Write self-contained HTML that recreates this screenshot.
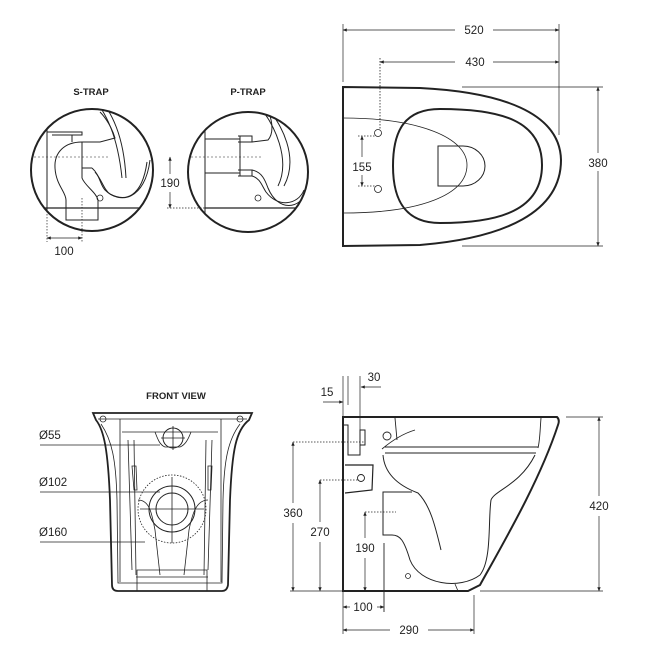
<!DOCTYPE html>
<html><head><style>
html,body{margin:0;padding:0;background:#fff;}
svg{display:block;}
text{font-family:"Liberation Sans",sans-serif;fill:#222;}
.d{font-size:11.5px;}
.b{font-size:9.5px;font-weight:bold;}
</style></head><body>
<svg width="645" height="645" viewBox="0 0 645 645" xmlns="http://www.w3.org/2000/svg">
<defs>
<marker id="a" viewBox="0 0 10 10" refX="9" refY="5" markerWidth="6" markerHeight="6" orient="auto-start-reverse"><path d="M0,1 L10,5 L0,9 Z" fill="#222"/></marker>
<clipPath id="cs"><circle cx="92" cy="170" r="61"/></clipPath>
<clipPath id="cp"><circle cx="248" cy="172" r="60"/></clipPath>
</defs>
<g fill="none" stroke="#222">

<!-- ===== TOP RIGHT PLAN ===== -->
<line x1="343" y1="24" x2="343" y2="82" stroke-width="0.7"/>
<line x1="559" y1="24" x2="559" y2="135" stroke-width="0.7"/>
<line x1="343" y1="30" x2="455" y2="30" stroke-width="0.7" marker-start="url(#a)"/>
<line x1="493" y1="30" x2="559" y2="30" stroke-width="0.7" marker-end="url(#a)"/>
<line x1="380" y1="62" x2="455" y2="62" stroke-width="0.7" marker-start="url(#a)"/>
<line x1="493" y1="62" x2="559" y2="62" stroke-width="0.7" marker-end="url(#a)"/>
<line x1="380" y1="58" x2="380" y2="130" stroke-width="0.8" stroke-dasharray="1.5,1.5"/>
<path d="M343,87 L420,88 C500,92 560,112 561,160 C561,212 505,238 420,245 L343,246 Z" stroke-width="2"/>
<path d="M343,118 C420,118 467,138 467,165 C467,195 420,213 343,213" stroke-width="0.8"/>
<path d="M440,109 C500,109 542,120 542,165 C542,210 500,223 440,223 C405,223 393,200 393,166 C393,130 405,109 440,109 Z" stroke-width="2"/>
<path d="M438,146 L463,146 A22,20 0 0 1 463,186 L438,186 Z" stroke-width="1"/>
<circle cx="378" cy="133" r="3.5" stroke-width="0.8"/>
<circle cx="378" cy="189" r="3.5" stroke-width="0.8"/>
<line x1="358" y1="136" x2="375" y2="136" stroke-width="0.7" stroke-dasharray="1.5,1.5"/>
<line x1="358" y1="186" x2="375" y2="186" stroke-width="0.7" stroke-dasharray="1.5,1.5"/>
<line x1="362" y1="136" x2="362" y2="157" stroke-width="0.7" marker-start="url(#a)"/>
<line x1="362" y1="175" x2="362" y2="186" stroke-width="0.7" marker-end="url(#a)"/>
<line x1="462" y1="87" x2="603" y2="87" stroke-width="0.7"/>
<line x1="462" y1="246" x2="603" y2="246" stroke-width="0.7"/>
<line x1="598" y1="87" x2="598" y2="153" stroke-width="0.7" marker-start="url(#a)"/>
<line x1="598" y1="171" x2="598" y2="246" stroke-width="0.7" marker-end="url(#a)"/>

<!-- ===== S-TRAP ===== -->
<g clip-path="url(#cs)">
<line x1="30" y1="157" x2="110" y2="157" stroke-width="0.6" stroke-dasharray="2,2"/>
<line x1="47" y1="128" x2="47" y2="240" stroke-width="1"/>
<line x1="30" y1="208" x2="160" y2="208" stroke-width="1.2"/>
<path d="M47,132 L82,132 L82,135 L52,135 M72,135 L72,142" stroke-width="1"/>
<path d="M82,142 C65,142 54,152 55,168 C56,185 66,192 66,200 L66,220 L98,220 L98,200 C96,192 85,186 82,178 L82,168 L92,168" stroke-width="1"/>
<path d="M82,142 L82,168 M82,142 L100,142 L115,138 C112,128 106,118 100,112" stroke-width="1"/>
<path d="M84,88 C108,110 118,140 122,178" stroke-width="1"/>
<path d="M90,88 C114,110 124,140 126,178" stroke-width="1"/>
<path d="M92,168 C100,175 100,185 105,190 C120,205 145,200 150,160" stroke-width="1"/>
<path d="M95,172 C102,180 104,190 110,194 C125,202 142,198 147,162" stroke-width="1"/>
<circle cx="100" cy="198" r="3" stroke-width="0.8"/>
</g>
<circle cx="92" cy="170" r="61" stroke-width="2"/>
<line x1="82" y1="198" x2="82" y2="242" stroke-width="0.7" stroke-dasharray="1.5,1.5"/>
<line x1="47" y1="208" x2="47" y2="242" stroke-width="0.7" stroke-dasharray="1.5,1.5"/>
<line x1="47" y1="238" x2="82" y2="238" stroke-width="0.7" marker-start="url(#a)" marker-end="url(#a)"/>

<!-- ===== P-TRAP ===== -->
<g clip-path="url(#cp)">
<line x1="167" y1="157" x2="262" y2="157" stroke-width="0.6" stroke-dasharray="2,2"/>
<line x1="205" y1="125" x2="205" y2="240" stroke-width="1"/>
<line x1="205" y1="208" x2="310" y2="208" stroke-width="1.2"/>
<line x1="205" y1="139" x2="240" y2="139" stroke-width="1"/>
<line x1="205" y1="173" x2="240" y2="173" stroke-width="1"/>
<path d="M240,136 L240,176 M238,136 L252,136 L252,142 L238,142 M238,170 L252,170 L252,176 L238,176" stroke-width="1"/>
<path d="M252,142 L268,140 C275,132 272,115 264,105" stroke-width="1"/>
<path d="M252,170 C262,172 265,180 268,188 C278,212 300,210 308,190" stroke-width="1"/>
<path d="M252,176 C260,178 262,186 266,192 C278,208 298,205 304,190" stroke-width="1"/>
<path d="M252,98 C278,125 290,162 278,186" stroke-width="1"/>
<path d="M258,98 C286,125 298,160 284,186" stroke-width="1"/>
<circle cx="258" cy="198" r="3" stroke-width="0.8"/>
</g>
<circle cx="248" cy="172" r="60" stroke-width="2"/>
<line x1="167" y1="208" x2="205" y2="208" stroke-width="0.7" stroke-dasharray="1.5,1.5"/>
<line x1="170" y1="157" x2="170" y2="174" stroke-width="0.7" marker-start="url(#a)"/>
<line x1="170" y1="192" x2="170" y2="208" stroke-width="0.7" marker-end="url(#a)"/>

<!-- ===== FRONT VIEW ===== -->
<path d="M93,413 L252,413 L249,420 C236,430 232,450 230,500 L228,585 Q227,591 222,591 L118,591 Q112,591 112,585 L110,500 C108,450 104,430 96,420 Z" stroke-width="1.8"/>
<path d="M98,419 L247,419 M101,424 C112,440 116,460 117,500 L118,583 L222,583 L223,500 C224,460 228,440 240,424" stroke-width="0.8"/>
<circle cx="103" cy="419" r="3" stroke-width="0.8"/>
<circle cx="240" cy="419" r="3" stroke-width="0.8"/>
<path d="M120,419 L120,582 M221,419 L221,582 M122,432 L218,432 M155,432 C158,440 160,445 165,447 L180,447 C185,445 188,440 191,432" stroke-width="0.8"/>
<path d="M128,440 L132,570 M212,440 L208,570 M134,440 L136,575 M206,440 L204,575 M132,466 L136,466 L137,490 L134,490 Z M208,466 L212,466 L211,490 L208,490 Z" stroke-width="0.8"/>
<path d="M138,500 C150,500 152,515 155,530 L160,575 M208,500 C196,500 192,515 189,530 L184,575 M136,577 L208,577 M137,591 L137,570 L207,570 L207,591" stroke-width="0.8"/>
<circle cx="173" cy="438" r="10" stroke-width="1"/>
<path d="M161,438 L185,438 M173,426 L173,450" stroke-width="0.8"/>
<circle cx="172" cy="509" r="34" stroke-width="0.8" stroke-dasharray="1.5,1.5"/>
<circle cx="172" cy="509" r="23" stroke-width="1"/>
<circle cx="172" cy="509" r="16" stroke-width="1"/>
<path d="M140,509 L204,509 M172,477 L172,543" stroke-width="0.8"/>
<line x1="40" y1="445" x2="160" y2="445" stroke-width="0.8"/>
<line x1="40" y1="492" x2="160" y2="492" stroke-width="0.8"/>
<line x1="40" y1="542" x2="145" y2="542" stroke-width="0.8"/>

<!-- ===== SIDE VIEW ===== -->
<path d="M343,417 L557,417 Q560,420 558,425 C540,480 505,540 480,585 L468,591 L343,591 Z" stroke-width="2"/>
<path d="M343,425 L348,425 L348,455 L360,455 L360,430 L365,430 L365,445 L360,445" stroke-width="1"/>
<path d="M395,418 L397,440 M541,418 C540,430 540,440 538,448 M385,447 L538,447 M385,453 L536,453" stroke-width="0.9"/>
<path d="M382,449 C395,438 405,433 415,430" stroke-width="0.9"/>
<circle cx="387" cy="436" r="4" stroke-width="0.9"/>
<path d="M383,455 C385,480 410,490 418,493 C430,505 435,525 441,550" stroke-width="1"/>
<path d="M535,455 C520,485 495,490 491,500 C488,520 492,560 480,575 C460,590 420,585 410,560 C404,540 400,535 392,535 L383,535 L383,492 L412,492" stroke-width="1"/>
<path d="M345,465 L373,465 L372,490 L345,493" stroke-width="1.2"/>
<circle cx="361" cy="478" r="3.5" stroke-width="0.9"/>
<circle cx="408" cy="576" r="2.5" stroke-width="0.8"/>
<line x1="384" y1="543" x2="384" y2="612" stroke-width="0.9"/>
<line x1="455" y1="584" x2="458" y2="591" stroke-width="0.8"/>
<!-- dims -->
<line x1="343" y1="376" x2="343" y2="417" stroke-width="0.7"/>
<line x1="348" y1="376" x2="348" y2="405" stroke-width="0.7"/>
<line x1="360" y1="376" x2="360" y2="430" stroke-width="0.7"/>
<line x1="323" y1="402" x2="343" y2="402" stroke-width="0.7" marker-end="url(#a)"/>
<line x1="381" y1="387" x2="361" y2="387" stroke-width="0.7" marker-end="url(#a)"/>
<line x1="566" y1="417" x2="603" y2="417" stroke-width="0.7"/>
<line x1="480" y1="591" x2="603" y2="591" stroke-width="0.7"/>
<line x1="290" y1="591" x2="343" y2="591" stroke-width="0.7"/>
<line x1="599" y1="417" x2="599" y2="496" stroke-width="0.7" marker-start="url(#a)"/>
<line x1="599" y1="516" x2="599" y2="591" stroke-width="0.7" marker-end="url(#a)"/>
<line x1="293" y1="442" x2="365" y2="442" stroke-width="0.7" stroke-dasharray="1.5,1.5"/>
<line x1="293" y1="442" x2="293" y2="503" stroke-width="0.7" marker-start="url(#a)"/>
<line x1="293" y1="523" x2="293" y2="591" stroke-width="0.7" marker-end="url(#a)"/>
<line x1="320" y1="480" x2="358" y2="480" stroke-width="0.7" stroke-dasharray="1.5,1.5"/>
<line x1="320" y1="480" x2="320" y2="522" stroke-width="0.7" marker-start="url(#a)"/>
<line x1="320" y1="542" x2="320" y2="591" stroke-width="0.7" marker-end="url(#a)"/>
<line x1="365" y1="512" x2="396" y2="512" stroke-width="0.7" stroke-dasharray="1.5,1.5"/>
<line x1="365" y1="512" x2="365" y2="538" stroke-width="0.7" marker-start="url(#a)"/>
<line x1="365" y1="558" x2="365" y2="591" stroke-width="0.7" marker-end="url(#a)"/>
<line x1="343" y1="591" x2="343" y2="634" stroke-width="0.7"/>
<line x1="474" y1="595" x2="474" y2="634" stroke-width="0.7"/>
<line x1="343" y1="607" x2="350" y2="607" stroke-width="0.7" marker-start="url(#a)"/>
<line x1="377" y1="607" x2="384" y2="607" stroke-width="0.7" marker-end="url(#a)"/>
<line x1="343" y1="630" x2="390" y2="630" stroke-width="0.7" marker-start="url(#a)"/>
<line x1="428" y1="630" x2="474" y2="630" stroke-width="0.7" marker-end="url(#a)"/>
</g>

<!-- TEXT -->
<g text-anchor="middle">
<text class="d" x="474" y="34">520</text>
<text class="d" x="475" y="66">430</text>
<text class="d" x="362" y="171">155</text>
<text class="d" x="598" y="167">380</text>
<text class="b" x="91" y="95">S-TRAP</text>
<text class="b" x="248" y="95">P-TRAP</text>
<text class="d" x="64" y="255">100</text>
<text class="d" x="170" y="187">190</text>
<text class="b" x="176" y="399">FRONT VIEW</text>
<text class="d" x="327" y="396">15</text>
<text class="d" x="374" y="381">30</text>
<text class="d" x="599" y="510">420</text>
<text class="d" x="293" y="517">360</text>
<text class="d" x="320" y="536">270</text>
<text class="d" x="365" y="552">190</text>
<text class="d" x="363" y="611">100</text>
<text class="d" x="409" y="634">290</text>
</g>
<g>
<text class="d" x="39" y="439">Ø55</text>
<text class="d" x="39" y="486">Ø102</text>
<text class="d" x="39" y="536">Ø160</text>
</g>
</svg>
</body></html>
